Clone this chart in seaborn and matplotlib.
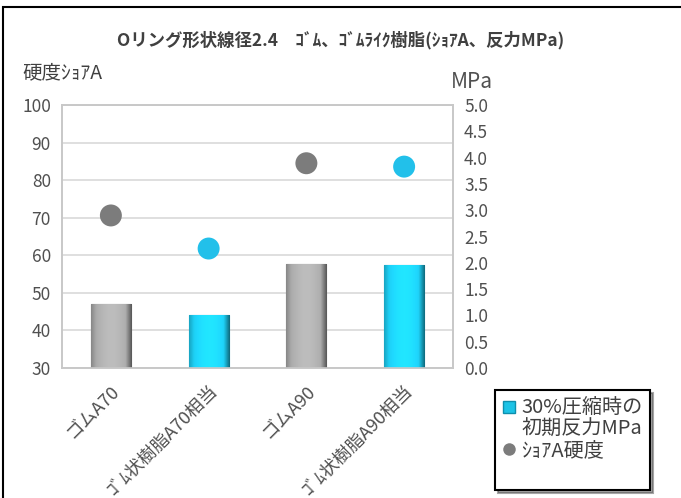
import matplotlib
matplotlib.use("Agg")
import matplotlib.pyplot as plt
import seaborn as sns
import pandas as pd
import numpy as np
from matplotlib.lines import Line2D
from matplotlib.patches import Rectangle
from matplotlib.colors import to_rgb

categories = ["ゴムA70", "ｺﾞﾑ状樹脂A70相当", "ゴムA90", "ｺﾞﾑ状樹脂A90相当"]
reaction_mpa = [1.22, 1.0, 1.98, 1.95]
hardness_shore_a = [70.6, 61.8, 84.5, 83.6]
left_ticks = [30, 40, 50, 60, 70, 80, 90, 100]
right_ticks = [0.0, 0.5, 1.0, 1.5, 2.0, 2.5, 3.0, 3.5, 4.0, 4.5, 5.0]

title = "Oリング形状線径2.4　ｺﾞﾑ、ｺﾞﾑﾗｲｸ樹脂(ｼｮｱA、反力MPa)"
left_label = "硬度ｼｮｱA"
right_label = "MPa"
legend_bar_lines = ["30%圧縮時の", "初期反力MPa"]
legend_pt = "ｼｮｱA硬度"

sns.set_theme(style="white")
plt.rcParams["font.family"] = ["Noto Sans CJK JP", "DejaVu Sans"]

grey_bar = "#a0a0a0"
cyan_bar = "#1cc3e6"
grey_pt = "#7c7c7c"
cyan_pt = "#22c0ea"
bar_colors = [grey_bar, cyan_bar, grey_bar, cyan_bar]
pt_colors = [grey_pt, cyan_pt, grey_pt, cyan_pt]
edge_colors = ["#6a6a6a", "#0e8fad", "#6a6a6a", "#0e8fad"]

df = pd.DataFrame({"cat": categories, "mpa": reaction_mpa, "hard": hardness_shore_a})

fig = plt.figure(figsize=(6.81, 4.98), dpi=100)
ax = fig.add_axes([62/681, 1-368/498, (453-62)/681, (368-105)/498])
ax2 = ax.twinx()

# points + gridlines on left axis (bottom layer)
sns.scatterplot(data=df, x="cat", y="hard", hue="cat", palette=pt_colors, legend=False,
                s=250, edgecolor="none", ax=ax, zorder=5)
ax.set_facecolor("white")
ax.grid(True, axis="y", color="#d9d9d9", linewidth=1.2)
ax.grid(False, axis="x")
ax.set_axisbelow(True)

# bars on right axis (top layer, transparent background)
sns.barplot(data=df, x="cat", y="mpa", hue="cat", palette=bar_colors, legend=False,
            width=0.41, ax=ax2, saturation=1)
ax2.patch.set_visible(False)
ax2.grid(False)

# shaded bevel look for bars, clipped to each bar patch
for p, base, ec in zip(ax2.patches, bar_colors, edge_colors):
    p.set_edgecolor(ec)
    p.set_linewidth(0.8)
    x0, y0 = p.get_x(), p.get_y()
    w, h = p.get_width(), p.get_height()
    rgb = np.array(to_rgb(base))
    xs = np.linspace(0, 1, 64)
    shade = 1.0 + 0.18 * np.sin(np.pi * xs) - 0.45 * np.clip((xs - 0.85) / 0.15, 0, 1) \
        - 0.15 * np.clip((0.12 - xs) / 0.12, 0, 1)
    img = np.clip(rgb[None, :] * shade[:, None], 0, 1)[None, :, :]
    im = ax2.imshow(img, extent=[x0, x0 + w, y0, y0 + h], aspect="auto",
                    interpolation="bilinear", zorder=p.get_zorder() + 0.1)
    im.set_clip_path(p)

ax.set_ylim(30, 100)
ax2.set_ylim(0, 5.0)
ax.set_xlim(-0.5, 3.5)
ax.set_yticks(left_ticks)
ax.set_yticklabels([str(t) for t in left_ticks])
ax2.set_yticks(right_ticks)
ax2.set_yticklabels([f"{t:.1f}" for t in right_ticks])

for a in (ax, ax2):
    for s in a.spines.values():
        s.set_color("#c8c8c8")
        s.set_linewidth(1.2)
    a.set_xlabel("")
    a.set_ylabel("")
    a.tick_params(axis="y", length=0, labelsize=12.5, colors="#505050", pad=8)

ax.set_xticks(range(len(categories)))
ax.set_xticklabels(categories, rotation=45, ha="right", rotation_mode="anchor",
                   fontsize=13, color="#505050")
ax.tick_params(axis="x", length=0, pad=10)

fig.text(0.5, 1-40/498, title, ha="center", va="center", fontsize=12.5,
         fontweight="bold", color="#404040")
fig.text(22/681, 1-73/498, left_label, ha="left", va="center", fontsize=14, color="#404040")
fig.text(472/681, 1-82/498, right_label, ha="center", va="center", fontsize=15, color="#505050")

# outer chart border (chart is cropped on the right and bottom)
fig.add_artist(Rectangle((3/681, -0.02), 1.0, 1-7/498+0.02, transform=fig.transFigure,
                         fill=False, edgecolor="black", linewidth=1.5))

blank = Line2D([], [], linestyle="none", marker=None)
handles = [
    Line2D([], [], marker="s", linestyle="none", markersize=8, markerfacecolor=cyan_bar,
           markeredgecolor="#0e8fad"),
    blank,
    Line2D([], [], marker="o", linestyle="none", markersize=9, markerfacecolor=grey_pt,
           markeredgecolor="none"),
    blank,
]
labels = [legend_bar_lines[0], legend_bar_lines[1], legend_pt, " "]
leg = fig.legend(handles, labels, loc="upper left",
                 bbox_to_anchor=(495/681, 1-390/498), bbox_transform=fig.transFigure,
                 frameon=True, fancybox=False, shadow=True, fontsize=14.5,
                 handlelength=0.6, handletextpad=0.3, borderpad=0.4, labelspacing=0.0,
                 borderaxespad=0)
leg.get_frame().set_edgecolor("black")
leg.get_frame().set_linewidth(1.5)
for t in leg.get_texts():
    t.set_color("#404040")

fig.savefig("out.png", dpi=100)
